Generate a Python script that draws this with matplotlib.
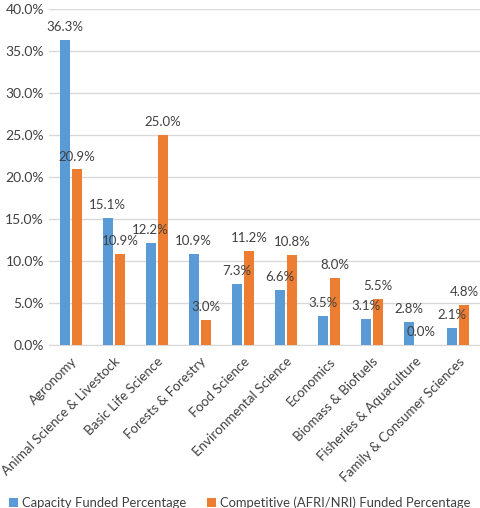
import numpy as np
import matplotlib
matplotlib.use('Agg')
import matplotlib.pyplot as plt
from matplotlib.ticker import FuncFormatter

plt.rcParams['font.family'] = ['Lato', 'DejaVu Sans']

# data
categories = ['Agronomy', 'Animal Science & Livestock', 'Basic Life Science',
              'Forests & Forestry', 'Food Science', 'Environmental Science',
              'Economics', 'Biomass & Biofuels', 'Fisheries & Aquaculture',
              'Family & Consumer Sciences']
capacity = [36.3, 15.1, 12.2, 10.9, 7.3, 6.6, 3.5, 3.1, 2.8, 2.1]
competitive = [20.9, 10.9, 25.0, 3.0, 11.2, 10.8, 8.0, 5.5, 0.0, 4.8]
series_names = ['Capacity Funded Percentage',
                'Competitive (AFRI/NRI) Funded Percentage']

blue = '#5B9BD5'
orange = '#ED7D31'

fig = plt.figure(figsize=(4.8, 5.08), dpi=100)
ax = fig.add_axes([0.103, 0.320, 0.896, 0.663])

x = np.arange(len(categories))
w = 0.23
off = 0.145
b1 = ax.bar(x - off, capacity, w, color=blue, label=series_names[0], zorder=3)
b2 = ax.bar(x + off, competitive, w, color=orange, label=series_names[1], zorder=3)

# value labels above each bar
for bars, vals in [(b1, capacity), (b2, competitive)]:
    for rect, v in zip(bars, vals):
        ax.annotate(f'{v:.1f}%', (rect.get_x() + rect.get_width() / 2, v),
                    xytext=(0, 5), textcoords='offset points',
                    ha='center', va='bottom', fontsize=9.5, color='#404040')

ax.set_xlim(-0.5, len(categories) - 0.5)
ax.set_ylim(0, 40)
ax.set_yticks(np.arange(0, 41, 5))
ax.yaxis.set_major_formatter(FuncFormatter(lambda v, p: f'{v:.1f}%'))
ax.grid(axis='y', color='#d9d9d9', linewidth=1, zorder=0)
for s in ['top', 'right', 'left']:
    ax.spines[s].set_visible(False)
ax.spines['bottom'].set_color('#d9d9d9')
ax.tick_params(axis='both', length=0, labelsize=10, labelcolor='#404040')
ax.tick_params(axis='y', pad=4)

ax.set_xticks(x)
ax.set_xticklabels(categories, rotation=45, ha='right', rotation_mode='anchor',
                   fontsize=9.6)
ax.tick_params(axis='x', pad=7)

fig.legend(handles=[b1, b2], loc='lower center', ncol=2, frameon=False,
           bbox_to_anchor=(0.5, -0.025), fontsize=9.4, handlelength=0.7,
           handleheight=0.7, handletextpad=0.3, columnspacing=1.6,
           labelcolor='#404040')

fig.savefig('out.png', dpi=100)
